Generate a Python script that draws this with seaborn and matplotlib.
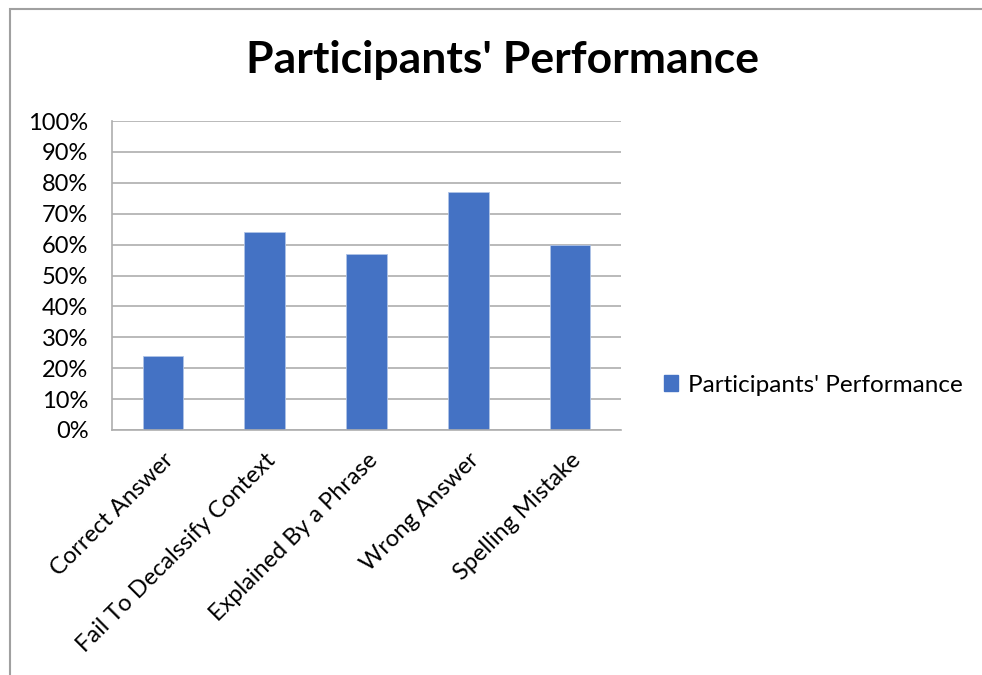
import matplotlib.pyplot as plt
import matplotlib.patches as mpatches
from matplotlib.ticker import FixedLocator, PercentFormatter
import pandas as pd
import seaborn as sns

# data
categories = ['Correct Answer', 'Fail To Decalssify Context', 'Explained By a Phrase',
              'Wrong Answer', 'Spelling Mistake']
performance = [0.24, 0.64, 0.57, 0.77, 0.60]
series_name = "Participants' Performance"

df = pd.DataFrame({'Category': categories, 'Value': performance})

sns.set_style("white")
plt.rcParams['font.family'] = ['Lato', 'DejaVu Sans']
plt.rcParams['text.color'] = 'black'
plt.rcParams['xtick.labelcolor'] = 'black'
plt.rcParams['ytick.labelcolor'] = 'black'

bar_color = '#4472C4'
grid_color = '#AEAEAE'
label_size = 17

fig = plt.figure(figsize=(9.82, 6.75), dpi=100)
ax = fig.add_axes([112 / 982, (675 - 430) / 675, (621 - 112) / 982, (430 - 121) / 675])

sns.barplot(data=df, x='Category', y='Value', color=bar_color, width=0.4,
            saturation=1, ax=ax, edgecolor='#AFC3E6', linewidth=0.6)

ax.set_ylim(0, 1)
ax.set_xlim(-0.5, len(categories) - 0.5)
ax.set_yticks([i / 10 for i in range(11)])
ax.yaxis.set_major_formatter(PercentFormatter(1.0, decimals=0))
ax.grid(axis='y', color=grid_color, linewidth=1.2)
ax.set_axisbelow(True)

for side in ['top', 'right']:
    ax.spines[side].set_visible(False)
for side in ['left', 'bottom']:
    ax.spines[side].set_color(grid_color)
    ax.spines[side].set_linewidth(1.2)

ax.tick_params(axis='y', length=6, width=1.2, color=grid_color, labelsize=label_size, pad=11)
ax.tick_params(axis='x', which='major', length=0, labelsize=label_size, pad=14)
ax.xaxis.set_minor_locator(FixedLocator([i - 0.5 for i in range(len(categories) + 1)]))
ax.tick_params(axis='x', which='minor', length=6, width=1.2, color=grid_color, direction='out')
plt.setp(ax.get_xticklabels(), rotation=45, ha='right', rotation_mode='anchor')
ax.set_xlabel('')
ax.set_ylabel('')

fig.text(502 / 982, 1 - 60 / 675, series_name, ha='center', va='center',
         fontsize=32, fontweight='bold')

handle = mpatches.Patch(color=bar_color, label=series_name)
fig.legend(handles=[handle], loc='center left', bbox_to_anchor=(642 / 982, 1 - 385 / 675),
           frameon=False, fontsize=17.5, handlelength=0.6, handleheight=0.6,
           handletextpad=0.4)

# outer chart frame
frame = mpatches.Rectangle((10 / 982, -0.05), 1.0, 1 - 9 / 675 + 0.05, transform=fig.transFigure,
                           fill=False, edgecolor='#A0A0A0', linewidth=1.5)
fig.patches.append(frame)

fig.savefig('out.png', dpi=100)
